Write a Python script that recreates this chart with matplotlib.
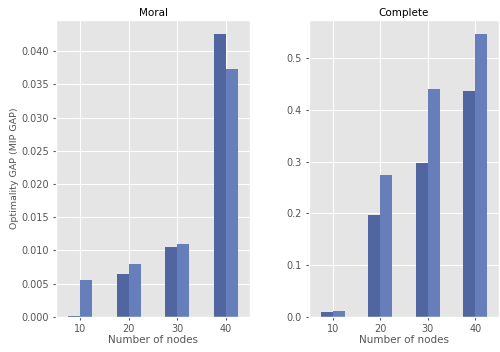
"""
    gap_bars.py

    Optimality gap per graph type, grouped by number of nodes
"""

from matplotlib import pyplot as plt
import numpy as np

plt.style.use('ggplot')

nodes = [10, 20, 30, 40]

# two solver runs per size
moral_a = [0.0001, 0.0064, 0.01045, 0.04255]
moral_b = [0.0055, 0.0079, 0.0110, 0.0373]

complete_a = [0.009, 0.196, 0.298, 0.4365]
complete_b = [0.011, 0.2747, 0.440, 0.546]

c_a = '#5165a0'
c_b = '#667fbb'
w = 2.5

fig = plt.figure(figsize=(5, 3.52), dpi=100)
ax1 = fig.add_axes([0.112, 0.10, 0.388, 0.843])
ax2 = fig.add_axes([0.618, 0.10, 0.380, 0.843])

x = np.array(nodes)
for ax, a, b, title in [(ax1, moral_a, moral_b, 'Moral'),
                        (ax2, complete_a, complete_b, 'Complete')]:
    ax.bar(x - w / 2, a, width=w, color=c_a)
    ax.bar(x + w / 2, b, width=w, color=c_b)
    ax.set_xlim(5, 45)
    ax.set_xticks(nodes)
    ax.set_title(title, fontsize=7.5, pad=3)
    ax.set_xlabel('Number of nodes', fontsize=7.5, labelpad=1)
    ax.tick_params(labelsize=7, length=2, pad=3)

ax1.set_yticks(np.arange(0, 0.0401, 0.005))
ax1.set_yticklabels(['%.3f' % t for t in np.arange(0, 0.0401, 0.005)])
ax2.set_yticks(np.arange(0, 0.51, 0.1))
ax2.set_yticklabels(['%.1f' % t for t in np.arange(0, 0.51, 0.1)])

ax1.set_ylabel('Optimality GAP (MIP GAP)', fontsize=6.8, labelpad=2)

fig.savefig('out.png', dpi=100)
